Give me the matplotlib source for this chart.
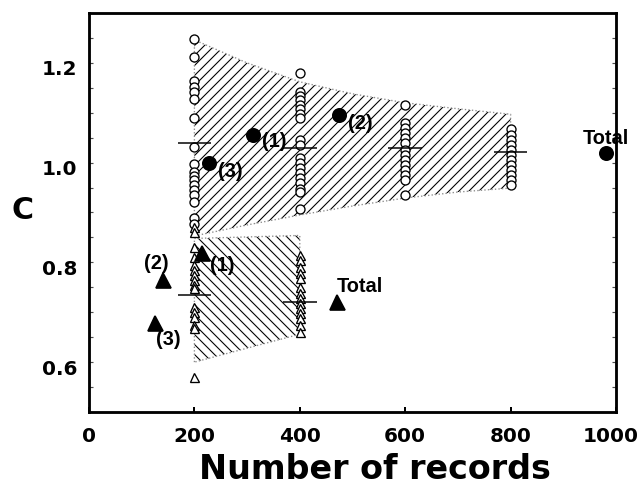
import matplotlib
matplotlib.use("Agg")
import matplotlib.pyplot as plt
from matplotlib.transforms import ScaledTranslation
import numpy as np

# open circles: individual subsets, by number of records
circ_200 = [1.247, 1.212, 1.164, 1.152, 1.142, 1.127, 1.089, 1.032, 0.997, 0.982,
            0.974, 0.965, 0.955, 0.945, 0.935, 0.922, 0.888, 0.877]
circ_400 = [1.179, 1.142, 1.134, 1.126, 1.116, 1.107, 1.097, 1.089, 1.045, 1.035,
            1.009, 0.999, 0.989, 0.979, 0.969, 0.959, 0.948, 0.942, 0.908]
circ_600 = [1.116, 1.079, 1.069, 1.059, 1.049, 1.039, 1.025, 1.015, 1.005, 0.995,
            0.985, 0.975, 0.965, 0.935]
circ_800 = [1.067, 1.055, 1.045, 1.035, 1.025, 1.015, 1.005, 0.995, 0.985, 0.975,
            0.965, 0.955]
circ_med_n = [200, 400, 600, 800]
circ_med = [1.039, 1.030, 1.029, 1.021]

# open triangles
tri_200 = [0.870, 0.860, 0.830, 0.811, 0.795, 0.785, 0.775, 0.765, 0.755, 0.748,
           0.711, 0.701, 0.691, 0.674, 0.668, 0.571]
tri_400 = [0.815, 0.805, 0.791, 0.778, 0.768, 0.751, 0.738, 0.728, 0.718, 0.708,
           0.698, 0.688, 0.675, 0.660]
tri_med_n = [200, 400]
tri_med = [0.735, 0.721]

# filled symbols: whole subsets and total
dot_n = [228, 311, 475, 981]
dot_c = [1.000, 1.055, 1.095, 1.019]
dot_lab = ["(3)", "(1)", "(2)", "Total"]
tri_n = [214, 141, 125, 470]
tri_c = [0.818, 0.765, 0.678, 0.720]
tri_lab = ["(1)", "(2)", "(3)", "Total"]

# hatched envelopes
band_n = [200, 300, 400, 500, 600, 700, 800]
band_top = [1.246, 1.200, 1.162, 1.138, 1.120, 1.108, 1.097]
band_bot = [0.853, 0.875, 0.895, 0.913, 0.929, 0.941, 0.949]
lband_n = [200, 300, 400]
lband_top = [0.848, 0.851, 0.854]
lband_bot = [0.600, 0.628, 0.656]

plt.rcParams['hatch.linewidth'] = 0.65
fig = plt.figure(figsize=(6.42 / 1.2, 4.96 / 1.2), dpi=120)
ax = fig.add_axes([89 / 642, 84 / 496, 527 / 642, 399 / 496])

ax.fill_between(band_n, band_bot, band_top, facecolor='none', edgecolor='black',
                hatch='////', linewidth=0, zorder=1)
ax.fill_between(lband_n, lband_bot, lband_top, facecolor='none', edgecolor='black',
                hatch='\\\\\\\\', linewidth=0, zorder=1)
for xs, lo, hi in [(band_n, band_bot, band_top), (lband_n, lband_bot, lband_top)]:
    ex = [xs[0]] + list(xs) + [xs[-1]] + list(xs[::-1])
    ey = [lo[0]] + list(hi) + [lo[-1]] + list(lo[::-1])
    ax.plot(ex, ey, ':', color='0.55', lw=0.8, zorder=2)

for n, vals in zip(circ_med_n, [circ_200, circ_400, circ_600, circ_800]):
    ax.plot([n] * len(vals), vals, 'o', ms=5.4, mfc='white', mec='black', mew=0.8, zorder=3)
for n, vals in zip(tri_med_n, [tri_200, tri_400]):
    ax.plot([n] * len(vals), vals, '^', ms=5.4, mfc='white', mec='black', mew=0.8, zorder=3)

ax.hlines(circ_med, np.array(circ_med_n) - 32, np.array(circ_med_n) + 32, color='black', lw=0.9, zorder=4)
ax.hlines(tri_med, np.array(tri_med_n) - 32, np.array(tri_med_n) + 32, color='black', lw=0.9, zorder=4)

ax.plot(dot_n, dot_c, 'o', ms=8, color='black', zorder=5)
ax.plot(tri_n, tri_c, '^', ms=9, color='black', zorder=5)

afont = dict(family='Liberation Sans', weight='bold', fontsize=12)
dot_off = [(9, -9), (9, -6), (9, -8), (0, 15)]
for x, y, s, off in zip(dot_n, dot_c, dot_lab, dot_off):
    ax.annotate(s, (x, y), xytext=off, textcoords='offset pixels',
                ha='left' if s != "Total" else 'center', va='center', **afont)
tri_off = [(8, -12), (-7, 16), (13, -16), (0, 16)]
for x, y, s, off in zip(tri_n, tri_c, tri_lab, tri_off):
    ax.annotate(s, (x, y), xytext=off, textcoords='offset pixels',
                ha='left' if s == "(1)" or s == "Total" else 'center', va='center', **afont)

ax.set_xlim(0, 1000)
ax.set_ylim(0.5, 1.3)
ax.set_xticks([0, 200, 400, 600, 800, 1000])
ax.set_yticks([0.6, 0.8, 1.0, 1.2])
ax.set_yticks(np.arange(0.55, 1.3, 0.05), minor=True)
ax.set_yticklabels(['0.6', '0.8', '1.0', '1.2'])
for lbl in ax.get_xticklabels() + ax.get_yticklabels():
    lbl.set_fontfamily('DejaVu Sans')
    lbl.set_fontweight('bold')
    lbl.set_fontsize(12)
ax.tick_params(axis='x', direction='in', length=3, width=1.2, pad=9, top=False)
ax.tick_params(axis='y', which='both', direction='in', length=2.5, width=0.7,
               pad=7, right=True, color='0.3')
for t in ax.yaxis.get_major_ticks():
    t.label1.set_transform(t.label1.get_transform() + ScaledTranslation(0, -5 / 120, fig.dpi_scale_trans))
last = ax.xaxis.get_major_ticks()[-1]
last.label1.set_transform(last.label1.get_transform() + ScaledTranslation(-5 / 120, 0, fig.dpi_scale_trans))
for sp in ax.spines.values():
    sp.set_linewidth(1.7)

ax.text(0.543, -0.145, 'Number of records', transform=ax.transAxes, ha='center',
        va='center', family='DejaVu Sans', weight='bold', fontsize=20)
ax.text(-0.127, 0.506, 'C', transform=ax.transAxes, ha='center', va='center',
        family='DejaVu Sans', weight='bold', fontsize=18)

fig.savefig('out.png', dpi=120)
